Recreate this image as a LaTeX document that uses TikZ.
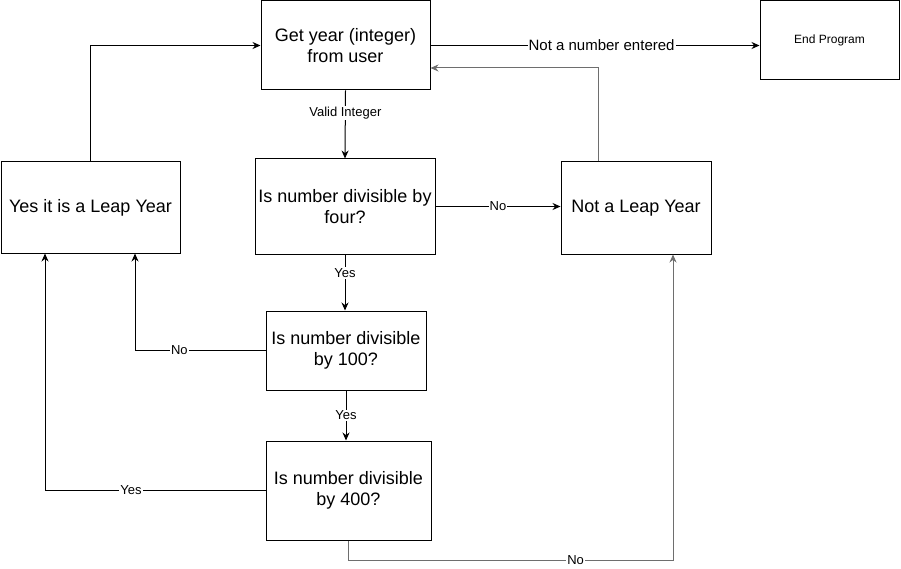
\documentclass[tikz,border=0pt]{standalone}
\usepackage{fontspec}
\setmainfont{Liberation Sans}
\usetikzlibrary{positioning,arrows.meta}
\definecolor{linegray}{HTML}{6E6E6E}

\begin{document}
\begin{tikzpicture}[x=1pt,y=-1pt,
	box/.style={draw, line width=1pt, align=center, inner sep=0pt, font=\fontsize{18}{21}\selectfont},
	arr/.style={draw, line width=1pt, -{Stealth[length=8pt,width=7pt]}},
	lab/.style={fill=white, inner sep=1pt, font=\fontsize{13}{15}\selectfont}]
	\useasboundingbox (0,0) rectangle (901,569);
	% boxes
	\node[box, minimum width=169pt, minimum height=89pt] (getyear) at (345.5,45.5) {Get year (integer)\\from user};
	\node[box, minimum width=139pt, minimum height=79pt, font=\fontsize{12}{14}\selectfont] (endprog) at (829.5,40.5) {End Program};
	\node[box, minimum width=179pt, minimum height=91pt] (yesleap) at (90.5,207.5) {Yes it is a Leap Year};
	\node[box, minimum width=180pt, minimum height=95pt] (four) at (345,206.5) {Is number divisible by\\four?};
	\node[box, minimum width=150pt, minimum height=92pt] (notleap) at (636,208) {Not a Leap Year};
	\node[box, minimum width=160pt, minimum height=79pt] (hund) at (346,350.5) {Is number divisible\\by 100?};
	\node[box, minimum width=165pt, minimum height=99pt] (fourhund) at (348.5,490.5) {Is number divisible\\by 400?};
	% connectors
	\draw[arr] (getyear.east) -- (getyear.east -| endprog.west)
		node[lab, pos=0.52, font=\fontsize{15}{17}\selectfont]{Not a number entered};
	\draw[arr] (getyear.south) -- (four.north) node[lab, pos=0.33]{Valid Integer};
	\draw[arr] (four.east) -- (four.east -| notleap.west) node[lab, midway]{No};
	\draw[arr, linegray] ([xshift=-38pt]notleap.north) |- ([yshift=-22.5pt]getyear.east);
	\draw[arr] (yesleap.north) |- (getyear.west);
	\draw[arr] (four.south) -- (four.south |- hund.north) node[lab, pos=0.33]{Yes};
	\draw[arr] (hund.west) -| ([xshift=44.5pt]yesleap.south) node[lab, pos=0.33]{No};
	\draw[arr] (hund.south) -- (hund.south |- fourhund.north) node[lab, midway]{Yes};
	\draw[arr] (fourhund.west) -| ([xshift=-45.5pt]yesleap.south) node[lab, pos=0.305]{Yes};
	\draw[arr, linegray] (fourhund.south) -- ++(0,20) -| ([xshift=37pt]notleap.south) node[lab, pos=0.35, text=black]{No};
\end{tikzpicture}
\end{document}
